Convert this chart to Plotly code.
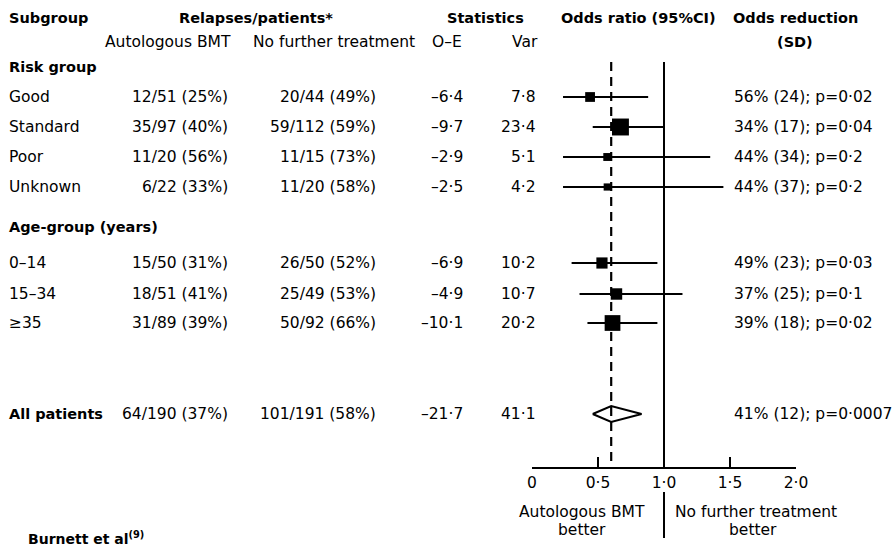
import math
import plotly.graph_objects as go

# ---------------- data ----------------
subgroups = ["Good", "Standard", "Poor", "Unknown", "0–14", "15–34", "≥35"]
auto_events = [12, 35, 11, 6, 15, 18, 31]
auto_n = [51, 97, 20, 22, 50, 51, 89]
auto_pct = [25, 40, 56, 33, 31, 41, 39]
ctrl_events = [20, 59, 11, 11, 26, 25, 50]
ctrl_n = [44, 112, 15, 20, 50, 49, 92]
ctrl_pct = [49, 59, 73, 58, 52, 53, 66]
o_minus_e = [-6.4, -9.7, -2.9, -2.5, -6.9, -4.9, -10.1]
variance = [7.8, 23.4, 5.1, 4.2, 10.2, 10.7, 20.2]
odds_ratio = [0.44, 0.67, 0.57, 0.57, 0.53, 0.64, 0.61]
ci_low = [0.235, 0.46, 0.235, 0.235, 0.30, 0.36, 0.42]
ci_high = [0.88, 1.00, 1.35, 1.45, 0.95, 1.14, 0.95]
reduction = [56, 34, 44, 44, 49, 37, 39]
reduction_sd = [24, 17, 34, 37, 23, 25, 18]
p_values = ["0·02", "0·04", "0·2", "0·2", "0·03", "0·1", "0·02"]

overall_auto = (64, 190, 37)
overall_ctrl = (101, 191, 58)
overall_oe = -21.7
overall_var = 41.1
overall_or = 0.60
overall_low = 0.46
overall_high = 0.83
overall_red = (41, 12, "0·0007")

tick_vals = [0, 0.5, 1.0, 1.5, 2.0]
tick_text = ["0", "0·5", "1·0", "1·5", "2·0"]

# ---------------- layout (pixel rows) ----------------
W, H = 893, 547
row_pos = [97, 127, 157, 187, 263, 294, 323]
overall_pos = 414
axis_bottom = 467
line_top = 62

BODY = "DejaVu Sans"
FS = 15.5
HS = 14.5


def fmt(v):
    return f"{v:.1f}".replace(".", "·").replace("-", "–")


fig = go.Figure()

# CI lines
xs, ys = [], []
for lo, hi, y in zip(ci_low, ci_high, row_pos):
    xs += [lo, hi, None]
    ys += [y, y, None]
fig.add_trace(go.Scatter(x=xs, y=ys, mode="lines",
                         line=dict(color="black", width=2), hoverinfo="skip"))

# boxes (size ~ sqrt of variance)
fig.add_trace(go.Scatter(x=odds_ratio, y=row_pos, mode="markers",
                         marker=dict(symbol="square", color="black", opacity=1,
                                     size=[3.5 * math.sqrt(v) for v in variance],
                                     line=dict(width=0)),
                         hoverinfo="skip"))

# overall diamond
dh = 8
fig.add_trace(go.Scatter(
    x=[overall_low, overall_or, overall_high, overall_or, overall_low],
    y=[overall_pos, overall_pos - dh, overall_pos, overall_pos + dh, overall_pos],
    mode="lines", fill="toself", fillcolor="white",
    line=dict(color="black", width=2), hoverinfo="skip"))

shapes = [
    dict(type="line", xref="x", yref="y", x0=1.0, x1=1.0, y0=line_top, y1=axis_bottom,
         line=dict(color="black", width=2)),
    dict(type="line", xref="x", yref="y", x0=overall_or, x1=overall_or, y0=line_top,
         y1=axis_bottom, line=dict(color="black", width=2.2, dash="9px,6px")),
    dict(type="line", xref="x", yref="paper", x0=1.0, x1=1.0,
         y0=1 - 492 / H, y1=1 - 538 / H, line=dict(color="black", width=2)),
]

ann = []


def txt(x, y, s, anchor="left", size=FS, bold=False, paper_y=False):
    if bold:
        s = f"<b>{s}</b>"
    ann.append(dict(x=x / W, y=(1 - y / H) if paper_y else y, xref="paper",
                    yref="paper" if paper_y else "y", text=s, showarrow=False,
                    xanchor=anchor, yanchor="middle",
                    font=dict(family=BODY, size=size, color="black")))


# headers
txt(7, 18, "Subgroup", bold=True, size=HS)
txt(256, 18, "Relapses/patients*", "center", bold=True, size=HS)
txt(485, 18, "Statistics", "center", bold=True, size=HS)
txt(638, 18, "Odds ratio (95%CI)", "center", bold=True, size=HS)
txt(795, 18, "Odds reduction", "center", bold=True, size=HS)
txt(168, 42, "Autologous BMT", "center")
txt(334, 42, "No further treatment", "center")
txt(447, 42, "O–E", "center")
txt(525, 42, "Var", "center")
txt(795, 42, "(SD)", "center", bold=True, size=HS)
txt(7, 67, "Risk group", bold=True, size=HS)
txt(7, 227, "Age-group (years)", bold=True, size=HS)

for i, y in enumerate(row_pos):
    txt(7, y, subgroups[i])
    txt(230, y, f"{auto_events[i]}/{auto_n[i]} ({auto_pct[i]}%)", "right")
    txt(378, y, f"{ctrl_events[i]}/{ctrl_n[i]} ({ctrl_pct[i]}%)", "right")
    txt(465, y, fmt(o_minus_e[i]), "right")
    txt(538, y, fmt(variance[i]), "right")
    txt(732, y, f"{reduction[i]}% ({reduction_sd[i]}); p={p_values[i]}")

y = overall_pos
txt(7, y, "All patients", bold=True, size=HS)
txt(230, y, f"{overall_auto[0]}/{overall_auto[1]} ({overall_auto[2]}%)", "right")
txt(378, y, f"{overall_ctrl[0]}/{overall_ctrl[1]} ({overall_ctrl[2]}%)", "right")
txt(465, y, fmt(overall_oe), "right")
txt(538, y, fmt(overall_var), "right")
txt(732, y, f"{overall_red[0]}% ({overall_red[1]}); p={overall_red[2]}")

# below axis
txt(582, 512, "Autologous BMT", "center", size=15.5, paper_y=True)
txt(582, 530, "better", "center", size=15.5, paper_y=True)
txt(756, 512, "No further treatment", "center", size=15.5, paper_y=True)
txt(753, 530, "better", "center", size=15.5, paper_y=True)
txt(26, 538, "Burnett et al<sup>(9)</sup>", size=14, bold=True, paper_y=True)

fig.update_layout(
    width=W, height=H, autosize=False, margin=dict(l=0, r=0, t=0, b=0, autoexpand=False),
    paper_bgcolor="white", plot_bgcolor="white", showlegend=False,
    shapes=shapes, annotations=ann,
    xaxis=dict(domain=[532 / W, 796 / W], range=[0, 2], showgrid=False, zeroline=False,
               showline=True, linecolor="black", linewidth=2, automargin=False,
               ticks="inside", ticklen=10, tickwidth=2, tickcolor="black",
               tickvals=tick_vals, ticktext=tick_text,
               tickfont=dict(family=BODY, size=15.5, color="black")),
    yaxis=dict(domain=[(H - axis_bottom) / H, 1], range=[axis_bottom, 0],
               visible=False, showgrid=False, zeroline=False, automargin=False),
)

fig.write_html("out.html", config={"responsive": False},
               post_script="document.body.style.margin='0';document.body.style.padding='0';")
